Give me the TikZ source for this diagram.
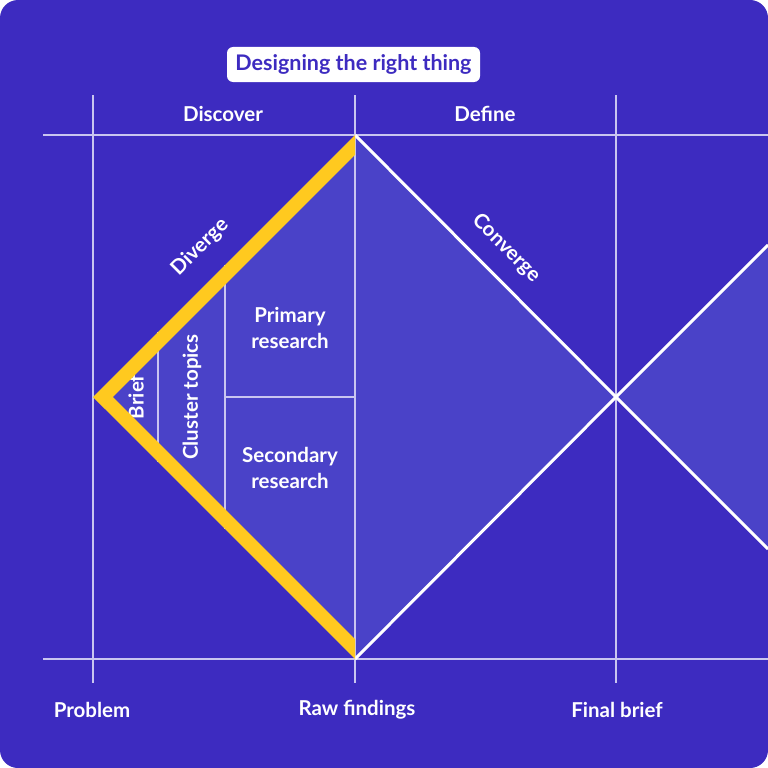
\documentclass[tikz,border=0pt]{standalone}
\usepackage{fontspec}
\setmainfont{Lato}
\definecolor{bgc}{HTML}{3D2BC0}
\definecolor{lightc}{HTML}{4A42C8}
\definecolor{yel}{HTML}{FFC91F}
\definecolor{gridc}{HTML}{C9C5F0}
\tikzset{
  lbl/.style={text=white, font=\bfseries\fontsize{20.5}{25.5}\selectfont, inner sep=0pt, align=center},
  gridline/.style={gridc, line width=1.3pt},
  whiteline/.style={white, line width=3pt},
}
\begin{document}
\begin{tikzpicture}[x=1pt,y=-1pt]
\useasboundingbox (0,0) rectangle (768,768);
\fill[white] (0,0) rectangle (768,768);
\fill[bgc, rounded corners=18pt] (0,0) rectangle (768,768);

\coordinate (L) at (93,397);
\coordinate (T) at (355,135);
\coordinate (B) at (355,659);
\coordinate (R) at (616,397);
\coordinate (RT) at (768,245);
\coordinate (RB) at (768,549);

% fills
\fill[lightc] (L) -- (T) -- (R) -- (B) -- cycle;
\fill[lightc] (R) -- (RT) -- (RB) -- cycle;

% grid
\draw[gridline] (93,95) -- (93,683);
\draw[gridline] (355,95) -- (355,683);
\draw[gridline] (616,95) -- (616,683);
\draw[gridline] (43,135) -- (768,135);
\draw[gridline] (43,659) -- (768,659);

% inner lines
\coordinate (a1) at (158,332); \coordinate (a2) at (158,462);
\coordinate (b1) at (225,265); \coordinate (b2) at (225,529);
\coordinate (c1) at (225,397); \coordinate (c2) at (355,397);
\draw[gridline] (a1) -- (a2);
\draw[gridline] (b1) -- (b2);
\draw[gridline] (c1) -- (c2);

% white lines
\draw[whiteline, line join=miter] (T) -- (R) -- (B);
\draw[whiteline] (R) -- (RT);
\draw[whiteline] (R) -- (RB);

% texts in diamond
\node[lbl, rotate=90] (brief) at (136,397) {Brief};
\node[lbl, rotate=90] (cluster) at (192,397) {Cluster topics};
\node[lbl] (primary) at (290,328) {Primary\\research};
\node[lbl] (secondary) at (290,468) {Secondary\\research};

% yellow edge
\begin{scope}
\clip (0,0) rectangle (355,768);
\draw[yel, line width=14pt, line join=miter] (365,135) -- (102.9,397) -- (365,659);
\end{scope}

% labels
\node[lbl, rotate=45] (diverge) at (200,247) {Diverge};
\node[lbl, rotate=-45] (converge) at (506,248) {Converge};
\node[lbl] (discover) at (223,114) {Discover};
\node[lbl] (define) at (485,114) {Define};
\node[lbl] (problem) at (92,710) {Problem};
\node[lbl] (raw) at (357,710) {Raw findings};
\node[lbl] (final) at (617,710) {Final brief};

\node[fill=white, rounded corners=6pt, text=bgc, font=\bfseries\fontsize{21.5}{25}\selectfont,
      minimum width=253pt, minimum height=35pt, inner sep=0pt] (title) at (353.5,64.5) {Designing the right thing};
\end{tikzpicture}
\end{document}
